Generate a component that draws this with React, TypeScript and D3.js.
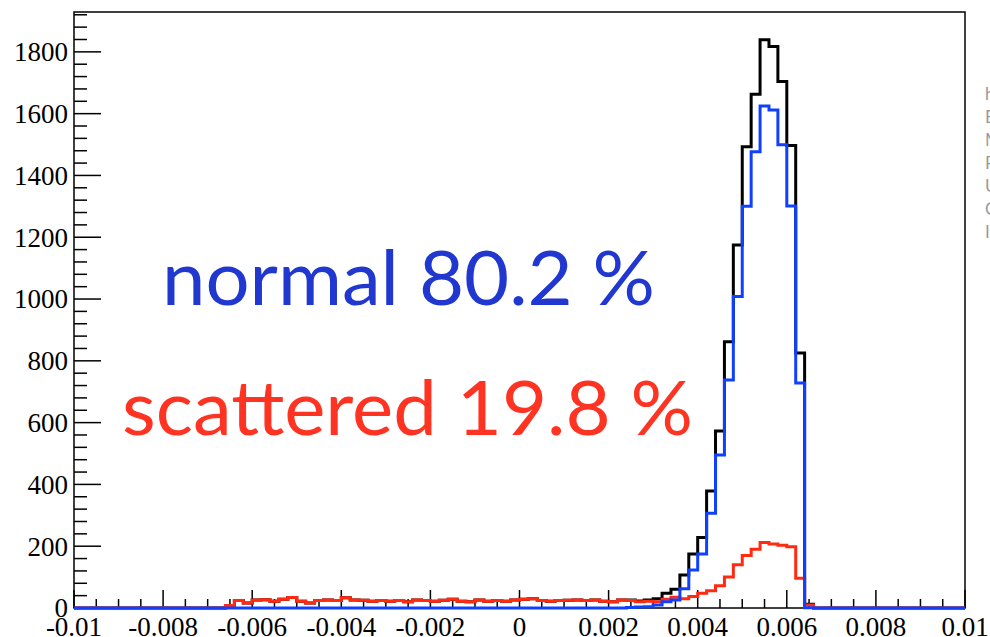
import React from "react";
import * as d3 from "d3";

const W = 990;
const H = 637;
const X_MIN = -0.01;
const X_MAX = 0.01;
const N_BINS = 100;
const Y_MAX = 1929;

const xTickValues = [-0.01, -0.008, -0.006, -0.004, -0.002, 0, 0.002, 0.004, 0.006, 0.008, 0.01];
const xTickLabels = ["-0.01", "-0.008", "-0.006", "-0.004", "-0.002", "0", "0.002", "0.004", "0.006", "0.008", "0.01"];
const yTickValues = [0, 200, 400, 600, 800, 1000, 1200, 1400, 1600, 1800];
const yTickLabels = ["0", "200", "400", "600", "800", "1000", "1200", "1400", "1600", "1800"];

// bin contents, 100 bins from -0.01 to 0.01
const redCounts = [
  0, 0, 0, 0, 0, 0, 0, 0, 0, 0,
  0, 0, 0, 0, 0, 0, 0, 8, 24, 16,
  26, 27, 22, 28, 34, 22, 16, 24, 26, 24,
  33, 26, 25, 22, 24, 22, 24, 20, 26, 24,
  22, 25, 28, 22, 20, 26, 22, 24, 22, 26,
  28, 30, 24, 22, 24, 25, 26, 24, 26, 22,
  20, 26, 24, 20, 22, 20, 28, 35, 30, 37,
  48, 56, 72, 100, 140, 170, 190, 212, 207, 203,
  198, 96, 10, 0, 0, 0, 0, 0, 0, 0,
  0, 0, 0, 0, 0, 0, 0, 0, 0, 0,
];

const blueCounts = [
  0, 0, 0, 0, 0, 0, 0, 0, 0, 0,
  0, 0, 0, 0, 0, 0, 0, 0, 0, 0,
  0, 0, 0, 0, 0, 0, 0, 0, 0, 0,
  0, 0, 0, 0, 0, 0, 0, 0, 0, 0,
  0, 0, 0, 0, 0, 0, 0, 0, 0, 0,
  0, 0, 0, 0, 0, 0, 0, 0, 0, 0,
  0, 0, 2, 3, 4, 10, 20, 26, 62, 123,
  175, 307, 495, 738, 1008, 1300, 1477, 1625, 1612, 1499,
  1301, 728, 1, 0, 0, 0, 0, 0, 0, 0,
  0, 0, 0, 0, 0, 0, 0, 0, 0, 0,
];

const totalCounts = [
  0, 0, 0, 0, 0, 0, 0, 0, 0, 0,
  0, 0, 0, 0, 0, 0, 0, 8, 24, 16,
  26, 27, 22, 28, 34, 22, 16, 24, 26, 24,
  33, 26, 25, 22, 24, 22, 24, 20, 26, 24,
  22, 25, 28, 22, 20, 26, 22, 24, 22, 26,
  28, 30, 24, 22, 24, 25, 26, 24, 26, 22,
  20, 26, 26, 23, 26, 30, 48, 61, 107, 175,
  228, 379, 573, 862, 1175, 1493, 1663, 1839, 1817, 1704,
  1497, 825, 12, 0, 0, 0, 0, 0, 0, 0,
  0, 0, 0, 0, 0, 0, 0, 0, 0, 0,
];

const labelNormal = "normal 80.2 %";
const labelScattered = "scattered 19.8 %";
const statLines = ["h1", "Entries", "Mean", "RMS", "Underflow", "Overflow", "Integral"];

const FRAME = { left: 74, right: 965, top: 12, bottom: 608 };

const x = d3.scaleLinear().domain([X_MIN, X_MAX]).range([FRAME.left, FRAME.right]);
const y = d3.scaleLinear().domain([0, Y_MAX]).range([FRAME.bottom, FRAME.top]);
const binWidth = (X_MAX - X_MIN) / N_BINS;

function histPath(counts: number[]): string {
  const pts: [number, number][] = [[x(X_MIN), y(0)]];
  counts.forEach((c, i) => {
    const lo = X_MIN + i * binWidth;
    const hi = lo + binWidth;
    pts.push([x(lo), y(c)]);
    pts.push([x(hi), y(c)]);
  });
  pts.push([x(X_MAX), y(0)]);
  return d3.line()(pts) || "";
}

export default function App() {
  const xMinor = d3.range(0, 41).map((k) => X_MIN + k * 0.0005);
  const yMinor = d3.range(0, Math.floor(Y_MAX / 40) + 1).map((k) => k * 40);
  const axisFont = "'Liberation Serif', 'Times New Roman', serif";
  const textFont = "Lato, 'Open Sans', sans-serif";
  return (
    <svg width={W} height={H} style={{ position: "absolute", left: 0, top: 0, background: "#fff" }}>
      <rect x={0} y={0} width={W} height={H} fill="#fff" />
      {/* stats box fragments at right edge */}
      {statLines.map((s, i) => (
        <text key={s} x={985} y={100 + i * 23} fontFamily={textFont} fontSize={17} fill="#999">
          {s}
        </text>
      ))}
      {/* x axis ticks */}
      {xMinor.map((v, i) => {
        const major = i % 4 === 0;
        return (
          <line
            key={"xm" + i}
            x1={x(v)}
            x2={x(v)}
            y1={FRAME.bottom}
            y2={FRAME.bottom - (major ? 18 : 9)}
            stroke="#000"
            strokeWidth={1.5}
          />
        );
      })}
      {/* y axis ticks */}
      {yMinor.map((v, i) => {
        const major = i % 5 === 0;
        return (
          <line
            key={"ym" + i}
            x1={FRAME.left}
            x2={FRAME.left + (major ? 27 : 13)}
            y1={y(v)}
            y2={y(v)}
            stroke="#000"
            strokeWidth={1.5}
          />
        );
      })}
      {/* frame */}
      <rect
        x={FRAME.left}
        y={FRAME.top}
        width={FRAME.right - FRAME.left}
        height={FRAME.bottom - FRAME.top}
        fill="none"
        stroke="#000"
        strokeWidth={1.5}
      />
      {/* histograms */}
      <path d={histPath(totalCounts)} fill="none" stroke="#000" strokeWidth={3} />
      <path d={histPath(redCounts)} fill="none" stroke="#ff2a10" strokeWidth={3} />
      <path d={histPath(blueCounts)} fill="none" stroke="#1040ff" strokeWidth={3} />
      {/* tick labels */}
      {yTickValues.map((v, i) => (
        <text key={"yl" + i} x={68} y={y(v)} dy="0.35em" textAnchor="end" fontFamily={axisFont} fontSize={27} fill="#000">
          {yTickLabels[i]}
        </text>
      ))}
      {xTickValues.map((v, i) => (
        <text key={"xl" + i} x={x(v)} y={636} textAnchor="middle" fontFamily={axisFont} fontSize={27} fill="#000">
          {xTickLabels[i]}
        </text>
      ))}
      {/* annotations */}
      <text x={162} y={305} fontFamily={textFont} fontSize={76} fill="#2038d0" textLength={493} lengthAdjust="spacingAndGlyphs">
        {labelNormal}
      </text>
      <text x={122} y={435} fontFamily={textFont} fontSize={76} fill="#ff3322" textLength={571} lengthAdjust="spacingAndGlyphs">
        {labelScattered}
      </text>
    </svg>
  );
}
